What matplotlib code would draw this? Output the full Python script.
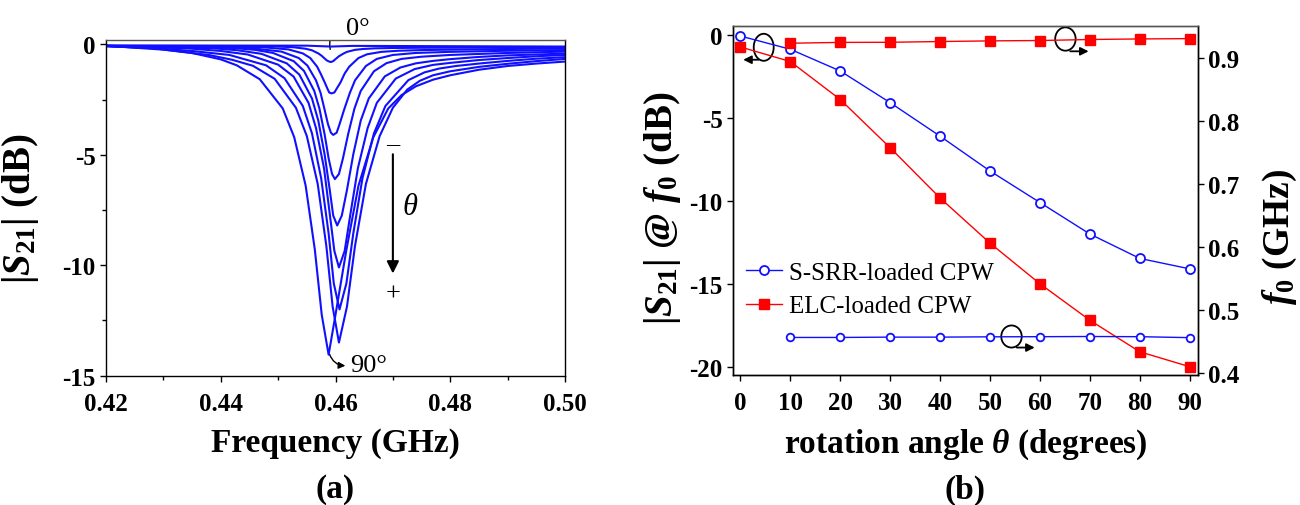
import numpy as np
import matplotlib
matplotlib.use("Agg")
import matplotlib.pyplot as plt
from matplotlib.patches import Ellipse, FancyArrowPatch

plt.rcParams["font.family"] = ["Liberation Serif", "DejaVu Serif"]
plt.rcParams["font.weight"] = "bold"
plt.rcParams["axes.labelweight"] = "bold"
plt.rcParams["mathtext.fontset"] = "custom"
plt.rcParams["mathtext.rm"] = "Liberation Serif:bold"
plt.rcParams["mathtext.bf"] = "Liberation Serif:bold"
plt.rcParams["mathtext.it"] = "Liberation Serif:italic:bold"

# ---- (a) |S21| vs frequency, one curve per rotation angle (0..90 deg) ----
f_0deg = [0.420, 0.455, 0.4592, 0.463, 0.500]
s_0deg = [-0.05, -0.06, -0.10, -0.07, -0.10]

f_10deg = [0.420, 0.4482, 0.4526, 0.4548, 0.4559, 0.4570, 0.4576, 0.4581, 0.4585, 0.4589, 0.4592,
           0.4596, 0.4600, 0.4606, 0.4613, 0.4620, 0.4634, 0.4648, 0.467, 0.470, 0.475, 0.480, 0.490, 0.500]
s_10deg = [-0.07, -0.08, -0.13, -0.20, -0.27, -0.41, -0.52, -0.64, -0.73, -0.78, -0.80,
           -0.76, -0.67, -0.54, -0.43, -0.34, -0.25, -0.21, -0.18, -0.165, -0.155, -0.15, -0.14, -0.13]

f_20deg = [0.420, 0.4468, 0.4518, 0.4543, 0.4556, 0.4568, 0.4574, 0.4581, 0.4586, 0.4589, 0.4593,
           0.4598, 0.4602, 0.4609, 0.4616, 0.4624, 0.4640, 0.4655, 0.468, 0.471, 0.475, 0.480, 0.490, 0.500]
s_20deg = [-0.07, -0.12, -0.23, -0.41, -0.62, -1.01, -1.32, -1.71, -2.01, -2.18, -2.22,
           -2.18, -2.01, -1.71, -1.32, -1.01, -0.62, -0.45, -0.34, -0.29, -0.26, -0.24, -0.21, -0.19]

f_30deg = [0.420, 0.4446, 0.4506, 0.4536, 0.4551, 0.4566, 0.4574, 0.4581, 0.4587, 0.4592, 0.4596,
           0.4602, 0.4607, 0.4615, 0.4625, 0.4634, 0.4653, 0.4672, 0.470, 0.474, 0.480, 0.490, 0.500]
s_30deg = [-0.07, -0.15, -0.33, -0.62, -0.96, -1.63, -2.20, -2.96, -3.62, -4.00, -4.10,
           -4.00, -3.62, -2.96, -2.20, -1.63, -0.98, -0.66, -0.48, -0.39, -0.34, -0.29, -0.26]

f_40deg = [0.420, 0.4419, 0.446, 0.4491, 0.4527, 0.4545, 0.4563, 0.4572, 0.4581, 0.4588, 0.4594, 0.4599,
           0.4606, 0.4613, 0.4622, 0.4633, 0.4644, 0.4667, 0.4689, 0.4715, 0.475, 0.480, 0.490, 0.500]
s_40deg = [-0.07, -0.16, -0.25, -0.39, -0.76, -1.20, -2.11, -2.91, -4.07, -5.16, -5.87, -6.10,
           -5.87, -5.16, -4.07, -2.91, -2.11, -1.22, -0.85, -0.66, -0.56, -0.48, -0.39, -0.33]

f_50deg = [0.420, 0.4383, 0.443, 0.4471, 0.4515, 0.4537, 0.4559, 0.4570, 0.4581, 0.4590, 0.4596, 0.4603,
           0.4611, 0.4620, 0.4631, 0.4644, 0.4658, 0.4686, 0.4713, 0.474, 0.477, 0.480, 0.485, 0.490, 0.500]
s_50deg = [-0.07, -0.17, -0.27, -0.43, -0.86, -1.37, -2.45, -3.45, -4.98, -6.59, -7.75, -8.20,
           -7.75, -6.59, -4.98, -3.45, -2.45, -1.45, -1.05, -0.86, -0.75, -0.67, -0.57, -0.50, -0.42]

f_60deg = [0.420, 0.4341, 0.440, 0.4447, 0.4500, 0.4527, 0.4553, 0.4566, 0.4580, 0.4590, 0.4598, 0.4606,
           0.4616, 0.4626, 0.4639, 0.4656, 0.4672, 0.4705, 0.4738, 0.477, 0.480, 0.485, 0.490, 0.495, 0.500]
s_60deg = [-0.07, -0.18, -0.30, -0.46, -0.92, -1.46, -2.65, -3.79, -5.61, -7.68, -9.35, -10.10,
           -9.35, -7.68, -5.61, -3.79, -2.65, -1.55, -1.12, -0.93, -0.84, -0.71, -0.62, -0.54, -0.48]

f_70deg = [0.420, 0.4287, 0.435, 0.4415, 0.4479, 0.4511, 0.4543, 0.4559, 0.4575, 0.4588, 0.4597, 0.4607,
           0.4619, 0.4631, 0.4647, 0.4667, 0.4687, 0.4727, 0.4755, 0.478, 0.481, 0.485, 0.490, 0.495, 0.500]
s_70deg = [-0.08, -0.18, -0.30, -0.48, -0.95, -1.53, -2.79, -4.03, -6.06, -8.56, -10.82, -12.00,
           -10.82, -8.56, -6.06, -4.03, -2.79, -1.62, -1.27, -1.10, -0.98, -0.87, -0.75, -0.65, -0.58]

f_80deg = [0.420, 0.4231, 0.430, 0.4381, 0.442, 0.4456, 0.4494, 0.4531, 0.4550, 0.4569, 0.4584, 0.4595, 0.4606,
           0.4620, 0.4634, 0.4653, 0.4677, 0.4700, 0.4725, 0.4747, 0.477, 0.480, 0.485, 0.490, 0.495, 0.500]
s_80deg = [-0.08, -0.12, -0.24, -0.49, -0.70, -0.97, -1.56, -2.87, -4.15, -6.32, -9.12, -11.87, -13.50,
           -11.87, -9.12, -6.32, -4.15, -2.87, -2.05, -1.65, -1.40, -1.22, -1.02, -0.88, -0.76, -0.66]

f_90deg = [0.420, 0.428, 0.4348, 0.440, 0.4428, 0.4468, 0.4508, 0.4528, 0.4548, 0.4564, 0.4576, 0.4588,
           0.4600, 0.4619, 0.4640, 0.4666, 0.4692, 0.4715, 0.474, 0.477, 0.480, 0.485, 0.490, 0.495, 0.500]
s_90deg = [-0.08, -0.17, -0.38, -0.68, -0.95, -1.58, -2.90, -4.20, -6.40, -9.30, -12.24, -14.05,
           -12.24, -9.30, -6.40, -4.20, -2.90, -2.30, -1.90, -1.60, -1.40, -1.15, -0.98, -0.87, -0.78]

curves_f = [f_0deg, f_10deg, f_20deg, f_30deg, f_40deg, f_50deg, f_60deg, f_70deg, f_80deg, f_90deg]
curves_s = [s_0deg, s_10deg, s_20deg, s_30deg, s_40deg, s_50deg, s_60deg, s_70deg, s_80deg, s_90deg]

# ---- (b) values at resonance vs rotation angle ----
angle = [0, 10, 20, 30, 40, 50, 60, 70, 80, 90]
s21_ssrr = [-0.06, -0.86, -2.17, -4.08, -6.10, -8.20, -10.10, -12.00, -13.47, -14.10]
s21_elc = [-0.72, -1.60, -3.89, -6.80, -9.83, -12.55, -15.00, -17.20, -19.10, -20.00]
angle_f0 = [10, 20, 30, 40, 50, 60, 70, 80, 90]
f0_ssrr = [0.4565, 0.4565, 0.4570, 0.4570, 0.4575, 0.4577, 0.4580, 0.4577, 0.4562]
f0_elc = [0.9227, 0.9240, 0.9242, 0.9254, 0.9264, 0.9270, 0.9286, 0.9295, 0.9300]

BLUE = "#1010ff"
RED = "#ff0000"
W, H = 1300, 506

fig = plt.figure(figsize=(W / 100, H / 100), dpi=100)


def px(x0, y0, x1, y1):
    return [x0 / W, 1 - y1 / H, (x1 - x0) / W, (y1 - y0) / H]


def style(ax):
    ax.tick_params(which="both", direction="out", width=1, labelsize=18, pad=3)
    ax.tick_params(which="major", length=4.5)
    ax.tick_params(which="minor", length=3)
    for sp in ax.spines.values():
        sp.set_linewidth(1.0)
    ax.spines["top"].set_color("#555555")


# ---------------- panel (a) ----------------
ax1 = fig.add_axes(px(106, 40.7, 565, 376.7))
for fx, sx in zip(curves_f, curves_s):
    ax1.plot(fx, sx, color=BLUE, lw=1.5)
ax1.set_xlim(0.42, 0.50)
ax1.set_ylim(-15, 0.21)
ax1.set_xticks([0.42, 0.44, 0.46, 0.48, 0.50])
ax1.set_xticklabels(["0.42", "0.44", "0.46", "0.48", "0.50"])
ax1.set_xticks([0.43, 0.45, 0.47, 0.49], minor=True)
ax1.set_yticks([0, -5, -10, -15])
ax1.set_yticklabels(["0", "-5", "-10", "-15"])
ax1.set_yticks([-2.5, -7.5, -12.5], minor=True)
style(ax1)
ax1.tick_params(axis="x", pad=7)
ax1.tick_params(right=False, top=False)
ax1.set_xlabel("Frequency (GHz)", fontsize=24, labelpad=9)
ax1.set_ylabel(r"$|S_{21}|$ (dB)", fontsize=28)
ax1.yaxis.set_label_coords(-0.142, 0.5)

# annotations in panel (a)
ta = dict(fontsize=19, fontweight="normal", color="black")
ax1.text(0.4618, 0.75, "0°", ha="left", va="center", **ta)
ax1.add_patch(FancyArrowPatch((0.4592, -0.35), (0.4614, 0.7), arrowstyle="-|>", mutation_scale=10,
                              connectionstyle="arc3,rad=-0.5", lw=1, color="black"))
ax1.text(0.4625, -14.5, "90°", ha="left", va="center", **ta)
ax1.add_patch(FancyArrowPatch((0.4588, -13.9), (0.4622, -14.55), arrowstyle="-|>", mutation_scale=10,
                              connectionstyle="arc3,rad=0.4", lw=1, color="black"))
ax1.text(0.4700, -4.45, "\u2013", ha="center", va="center", **ta)
ax1.text(0.4700, -11.3, "+", ha="center", va="center", **ta)
ax1.annotate("", xy=(0.4700, -10.5), xytext=(0.4700, -4.85),
             arrowprops=dict(arrowstyle="-|>", lw=1.5, color="black", mutation_scale=18))
ax1.text(0.4716, -7.35, "\u03b8", fontsize=22, fontstyle="italic", fontweight="normal",
         ha="left", va="center")

# ---------------- panel (b) ----------------
ax2 = fig.add_axes(px(733, 27, 1198, 376))
ax2.plot(angle, s21_ssrr, "-o", color=BLUE, lw=1.0, ms=6.5, mfc="white", mec=BLUE, mew=1.3,
         label="S-SRR-loaded CPW")
ax2.plot(angle, s21_elc, "-s", color=RED, lw=1.0, ms=6.5, mfc=RED, mec=RED,
         label="ELC-loaded CPW")
ax2.set_xlim(-1.49, 91.66)
ax2.set_ylim(-20.5, 0.544)
ax2.set_xticks(angle)
ax2.set_yticks([0, -5, -10, -15, -20])
ax2.set_yticklabels(["0", "-5", "-10", "-15", "-20"])
style(ax2)
ax2.tick_params(axis="x", pad=7)
ax2.tick_params(right=False, top=False)
ax2.set_xlabel(r"rotation angle $\theta$ (degrees)", fontsize=24, labelpad=9)
ax2.set_ylabel(r"$|S_{21}|$ @ $f_0$ (dB)", fontsize=28)
ax2.yaxis.set_label_coords(-0.1075, 0.48)

ax3 = ax2.twinx()
ax3.plot(angle_f0, f0_ssrr, "-o", color=BLUE, lw=1.0, ms=5.5, mfc="white", mec=BLUE, mew=1.3)
ax3.plot(angle_f0, f0_elc, "-s", color=RED, lw=1.0, ms=6.5, mfc=RED, mec=RED)
ax3.set_ylim(0.397, 0.950)
ax3.set_yticks([0.4, 0.5, 0.6, 0.7, 0.8, 0.9])
style(ax3)
ax3.tick_params(top=False)
ax3.set_ylabel(r"$f_0$ (GHz)", fontsize=27)
ax3.yaxis.set_label_coords(1.135, 0.40)

leg = ax2.legend(loc="upper left", bbox_to_anchor=(746 / W, 1 - 262 / H),
                 bbox_transform=fig.transFigure, frameon=False, borderpad=0, borderaxespad=0,
                 handlelength=1.45, handletextpad=0.25, labelspacing=0.45,
                 prop={"family": "Liberation Serif", "weight": "normal", "size": 18})

# ellipse + arrow markers telling which axis each pair of curves uses
ax2.add_patch(Ellipse((4.66, -0.74), 4.0, 1.63, fill=False, lw=1.3, ec="black"))
ax2.annotate("", xy=(0.0, -1.49), xytext=(4.2, -1.49),
             arrowprops=dict(arrowstyle="-|>", lw=1.3, color="black", mutation_scale=12))
ax3.add_patch(Ellipse((65.1, 0.9294), 4.1, 0.037, fill=False, lw=1.3, ec="black"))
ax3.annotate("", xy=(70.3, 0.9099), xytext=(65.5, 0.9099),
             arrowprops=dict(arrowstyle="-|>", lw=1.3, color="black", mutation_scale=12))
ax3.add_patch(Ellipse((54.3, 0.458), 4.1, 0.035, fill=False, lw=1.3, ec="black"))
ax3.annotate("", xy=(59.5, 0.4405), xytext=(54.8, 0.4405),
             arrowprops=dict(arrowstyle="-|>", lw=1.3, color="black", mutation_scale=12))

fig.text(335 / W, 1 - 490 / H, "(a)", fontsize=24, ha="center", va="center")
fig.text(965 / W, 1 - 490 / H, "(b)", fontsize=24, ha="center", va="center")

fig.savefig("out.png", dpi=100)
